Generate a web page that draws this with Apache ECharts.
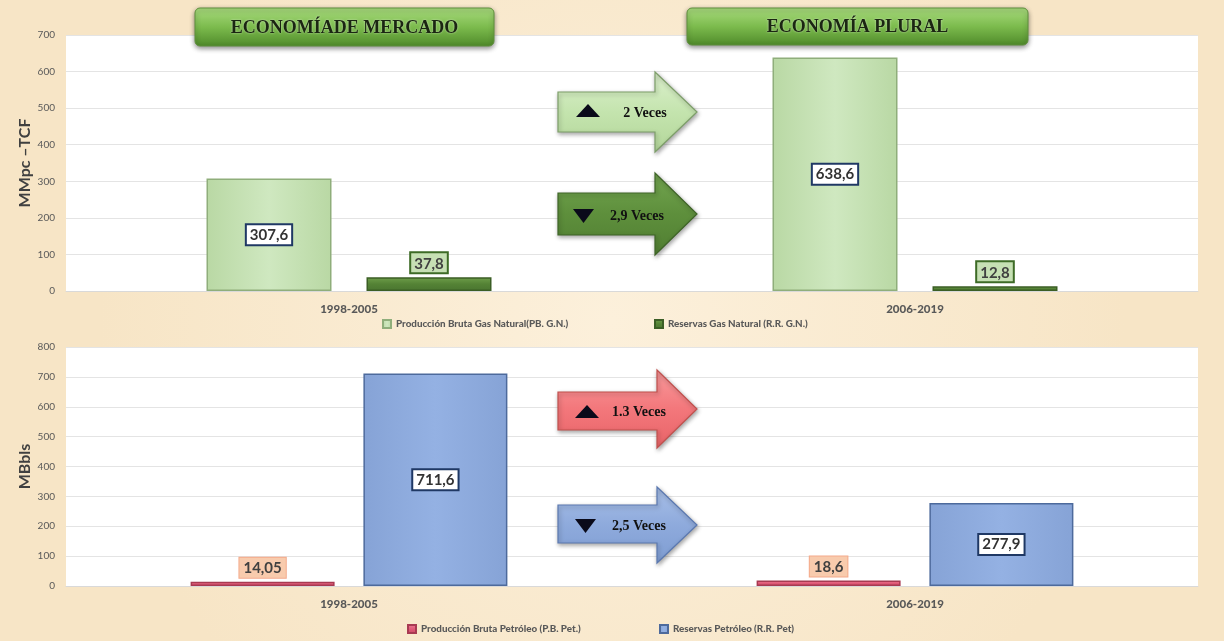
<!DOCTYPE html>
<html>
<head>
<meta charset="utf-8">
<script src="https://cdn.jsdelivr.net/npm/echarts@6/dist/echarts.min.js"></script>
<style>
html,body{margin:0;padding:0;background:#f8e9cd;}
#chart{width:1224px;height:641px;}
</style>
</head>
<body>
<div id="chart"></div>
<script>
// ---- data ----
const categories = ['1998-2005', '2006-2019'];
const gasProduccion = [307.6, 638.6];   // Producción Bruta Gas Natural
const gasReservas = [37.8, 12.8];       // Reservas Gas Natural
const petProduccion = [14.05, 18.6];    // Producción Bruta Petróleo
const petReservas = [711.6, 277.9];     // Reservas Petróleo
const gasTicks = [0, 700, 100];         // min, max, interval
const petTicks = [0, 800, 100];
const nameGasProd = 'Producción Bruta Gas Natural(PB. G.N.)';
const nameGasRes = 'Reservas Gas Natural (R.R. G.N.)';
const namePetProd = 'Producción Bruta Petróleo (P.B. Pet.)';
const namePetRes = 'Reservas Petróleo (R.R. Pet)';
const header1 = 'ECONOMÍADE MERCADO';
const header2 = 'ECONOMÍA PLURAL';
const arrowTexts = ['2 Veces', '2,9 Veces', '1.3 Veces', '2,5 Veces'];

const fmt = p => String(p.value).replace('.', ',');
const FONT = 'Lato, "Open Sans", sans-serif';

function vgrad(c1, c2, c3) {
  return new echarts.graphic.LinearGradient(0, 0, 0, 1, [
    {offset: 0, color: c1}, {offset: 0.5, color: c2}, {offset: 1, color: c3}]);
}
function hgrad(c1, c2, c3) {
  return new echarts.graphic.LinearGradient(0, 0, 1, 0, [
    {offset: 0, color: c1}, {offset: 0.5, color: c2}, {offset: 1, color: c3}]);
}

const insideLabel = {
  show: true, position: 'inside', formatter: fmt,
  fontFamily: FONT, fontWeight: 'bold', fontSize: 15, color: '#333',
  backgroundColor: '#ffffff', borderColor: '#1f3864', borderWidth: 2,
  padding: [3, 3, 1, 3]
};
const topLabelGreen = {
  show: true, position: 'top', distance: 5, formatter: fmt,
  fontFamily: FONT, fontWeight: 'bold', fontSize: 15, color: '#404040',
  backgroundColor: '#c6e0b4', borderColor: '#3d6b26', borderWidth: 2,
  padding: [3, 3, 1, 3]
};
const topLabelPeach = {
  show: true, position: 'top', distance: 4, formatter: fmt,
  fontFamily: FONT, fontWeight: 'bold', fontSize: 15, color: '#404040',
  backgroundColor: '#f8cbad', borderColor: '#f4a98a', borderWidth: 1,
  padding: [3, 4, 2, 4]
};

function xAxisCfg(gi) {
  return {
    type: 'category', gridIndex: gi, data: categories,
    axisLine: {show: true, lineStyle: {color: '#d9d9d9'}},
    axisTick: {show: false},
    axisLabel: {fontFamily: FONT, fontWeight: 900, fontSize: 11.5, color: '#595959', margin: 12}
  };
}
function yAxisCfg(gi, t, name) {
  return {
    type: 'value', gridIndex: gi, min: t[0], max: t[1], interval: t[2],
    name: name, nameLocation: 'middle', nameRotate: 90, nameGap: 33, nameMoveOverlap: false,
    nameTextStyle: {fontFamily: FONT, fontWeight: 'bold', fontSize: 16, color: '#404040'},
    axisLine: {show: false}, axisTick: {show: false},
    axisLabel: {fontFamily: FONT, fontSize: 10, color: '#595959', margin: 11},
    splitLine: {lineStyle: {color: '#e4e4e4'}}
  };
}

function arrowPts(x0, yb0, yb1, xh, yh0, yh1, xt) {
  return [[x0, yb0], [xh, yb0], [xh, yh0], [xt, (yh0 + yh1) / 2], [xh, yh1], [xh, yb1], [x0, yb1]];
}
function arrow(pts, fill, stroke) {
  return {
    type: 'polygon', z: 50, shape: {points: pts},
    style: {fill: fill, stroke: stroke, lineWidth: 1.2,
      shadowBlur: 4, shadowColor: 'rgba(0,0,0,0.35)', shadowOffsetX: 1, shadowOffsetY: 2}
  };
}
function tri(x, y, up) {
  const pts = up ? [[x, y + 13], [x + 12, y], [x + 24, y + 13]] : [[x, y], [x + 21, y], [x + 10.5, y + 14]];
  return {type: 'polygon', z: 52, shape: {points: pts}, style: {fill: '#0a0a1a'}};
}
function atext(x, y, s) {
  return {type: 'text', z: 52, x: x, y: y,
    style: {text: s, fill: '#111', font: 'bold 14px "Liberation Serif", serif', align: 'center', verticalAlign: 'middle'}};
}
function header(x, y, w, h, s) {
  return [{
    type: 'rect', z: 50, shape: {x: x, y: y, width: w, height: h, r: 5},
    style: {fill: vgrad('#a9db7e', '#7cbb4d', '#4f8a2a'), stroke: '#5f8f3c', lineWidth: 1,
      shadowBlur: 5, shadowColor: 'rgba(0,0,0,0.45)', shadowOffsetY: 2}
  }, {
    type: 'text', z: 52, x: x + w / 2, y: y + h / 2 + 1,
    style: {text: s, fill: '#1b2612', font: 'bold 18px "Liberation Serif", serif', align: 'center', verticalAlign: 'middle',
      textShadowColor: 'rgba(255,255,255,0.6)', textShadowBlur: 2}
  }];
}
const legendText = {fontFamily: FONT, fontWeight: 900, fontSize: 9.8, color: '#595959'};

const chart = echarts.init(document.getElementById('chart'), null, {renderer: 'canvas'});
chart.setOption({
  backgroundColor: new echarts.graphic.RadialGradient(0.5, 0.5, 0.8, [
    {offset: 0, color: '#fcf0db'}, {offset: 1, color: '#f7e5c6'}]),
  animation: false,
  grid: [
    {left: 66, right: 26, top: 35, height: 256, show: true, backgroundColor: '#ffffff', borderWidth: 0},
    {left: 66, right: 26, top: 347, height: 239, show: true, backgroundColor: '#ffffff', borderWidth: 0}
  ],
  xAxis: [xAxisCfg(0), xAxisCfg(1)],
  yAxis: [yAxisCfg(0, gasTicks, 'MMpc –TCF'), yAxisCfg(1, petTicks, 'MBbls')],
  legend: [
    {left: 377, top: 314, itemWidth: 8, itemHeight: 8, itemGap: 0, icon: 'rect', data: [nameGasProd], textStyle: legendText},
    {left: 649, top: 314, itemWidth: 8, itemHeight: 8, itemGap: 0, icon: 'rect', data: [nameGasRes], textStyle: legendText},
    {left: 402, top: 619, itemWidth: 8, itemHeight: 8, itemGap: 0, icon: 'rect', data: [namePetProd], textStyle: legendText},
    {left: 654, top: 619, itemWidth: 8, itemHeight: 8, itemGap: 0, icon: 'rect', data: [namePetRes], textStyle: legendText}
  ],
  series: [
    {name: nameGasProd, type: 'bar', xAxisIndex: 0, yAxisIndex: 0, data: gasProduccion,
      barWidth: 125, barGap: '28%',
      itemStyle: {color: hgrad('#b9d8a4', '#cfe8c0', '#b9d8a4'), borderColor: '#8fae7b', borderWidth: 1.5},
      label: insideLabel},
    {name: nameGasRes, type: 'bar', xAxisIndex: 0, yAxisIndex: 0, data: gasReservas,
      barWidth: 125, barGap: '28%',
      itemStyle: {color: vgrad('#6f9f4b', '#548235', '#4a7530'), borderColor: '#3b5e25', borderWidth: 1.5},
      label: topLabelGreen},
    {name: namePetProd, type: 'bar', xAxisIndex: 1, yAxisIndex: 1, data: petProduccion,
      barWidth: 144, barGap: '20%',
      itemStyle: {color: vgrad('#ec7f95', '#e05a78', '#c94864'), borderColor: '#a83a52', borderWidth: 1.5},
      label: topLabelPeach},
    {name: namePetRes, type: 'bar', xAxisIndex: 1, yAxisIndex: 1, data: petReservas,
      barWidth: 144, barGap: '20%',
      itemStyle: {color: hgrad('#86a3d6', '#94b1e3', '#86a3d6'), borderColor: '#4d6a9c', borderWidth: 1.5},
      label: insideLabel}
  ],
  graphic: [
    ...header(195, 8, 299, 38, header1),
    ...header(687, 8, 341, 37, header2),
    arrow(arrowPts(558, 92, 132, 655, 72, 152, 697), vgrad('#dcf0cd', '#c4e4ae', '#b3d69a'), '#7d9e69'),
    arrow(arrowPts(558, 193, 235, 655, 173, 255, 697), vgrad('#73a550', '#5e8f3c', '#507e32'), '#3e6427'),
    arrow(arrowPts(558, 392, 430, 657, 370, 448, 697), vgrad('#f89a9c', '#f3777b', '#e86468'), '#c0504d'),
    arrow(arrowPts(558, 505, 543, 657, 487, 563, 697), vgrad('#a9c0e8', '#8eaadc', '#7f9dd2'), '#5a78b0'),
    tri(576, 104, true), atext(645, 113, arrowTexts[0]),
    tri(573, 209, false), atext(637, 216, arrowTexts[1]),
    tri(575, 405, true), atext(639, 412, arrowTexts[2]),
    tri(575, 519, false), atext(639, 526, arrowTexts[3])
  ]
});
</script>
</body>
</html>
